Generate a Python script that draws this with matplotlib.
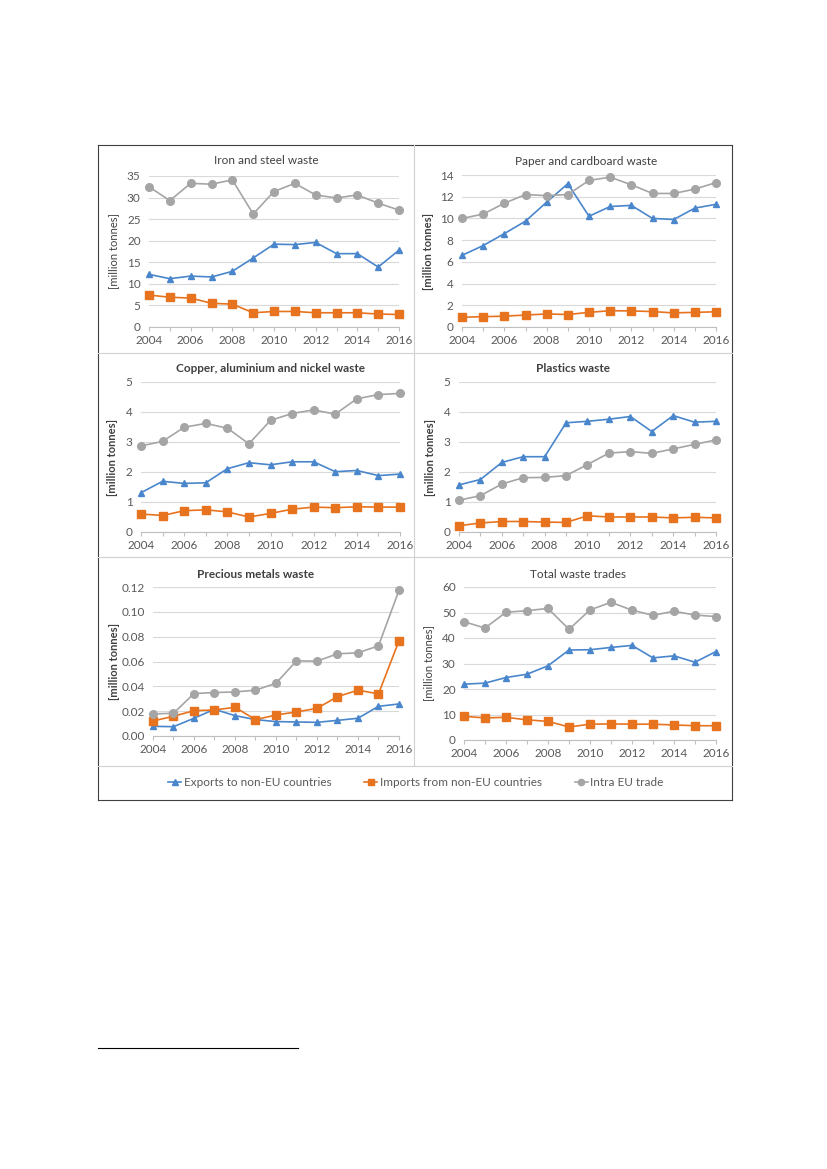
import matplotlib
matplotlib.use("Agg")
import matplotlib.pyplot as plt
from matplotlib.lines import Line2D
from matplotlib.ticker import MultipleLocator, FormatStrFormatter

plt.rcParams['font.family'] = ['Lato', 'DejaVu Sans']

years = list(range(2004, 2017))

iron_exports = [12.2, 11.2, 11.8, 11.6, 12.9, 16.0, 19.2, 19.1, 19.6, 17.0, 17.0, 13.9, 17.8]
iron_imports = [7.4, 6.9, 6.7, 5.5, 5.3, 3.3, 3.6, 3.6, 3.3, 3.3, 3.3, 3.0, 2.9]
iron_intra = [32.5, 29.3, 33.3, 33.1, 34.1, 26.2, 31.4, 33.3, 30.6, 29.9, 30.6, 28.7, 27.1]

paper_exports = [6.6, 7.5, 8.6, 9.75, 11.5, 13.2, 10.2, 11.1, 11.2, 10.0, 9.9, 10.95, 11.3]
paper_imports = [0.9, 0.95, 1.0, 1.1, 1.2, 1.15, 1.35, 1.5, 1.48, 1.42, 1.3, 1.35, 1.4]
paper_intra = [10.0, 10.4, 11.4, 12.2, 12.1, 12.2, 13.5, 13.8, 13.1, 12.3, 12.3, 12.7, 13.3]

copper_exports = [1.31, 1.69, 1.62, 1.64, 2.11, 2.31, 2.24, 2.34, 2.34, 2.01, 2.05, 1.88, 1.93]
copper_imports = [0.60, 0.55, 0.71, 0.74, 0.67, 0.50, 0.62, 0.76, 0.83, 0.81, 0.84, 0.83, 0.83]
copper_intra = [2.87, 3.02, 3.49, 3.62, 3.46, 2.94, 3.72, 3.95, 4.07, 3.93, 4.44, 4.58, 4.62]

plastics_exports = [1.57, 1.75, 2.32, 2.51, 2.51, 3.64, 3.69, 3.76, 3.85, 3.35, 3.88, 3.66, 3.69]
plastics_imports = [0.21, 0.30, 0.35, 0.35, 0.33, 0.32, 0.54, 0.50, 0.50, 0.50, 0.47, 0.49, 0.47]
plastics_intra = [1.06, 1.21, 1.60, 1.81, 1.82, 1.88, 2.25, 2.63, 2.68, 2.62, 2.77, 2.92, 3.07]

precious_exports = [0.0078, 0.0075, 0.0143, 0.0215, 0.0164, 0.0132, 0.0116, 0.0113, 0.0110, 0.0126, 0.0143, 0.0239, 0.0258]
precious_imports = [0.0121, 0.0159, 0.0204, 0.0210, 0.0231, 0.0132, 0.0169, 0.0194, 0.0223, 0.0317, 0.0369, 0.0339, 0.0767]
precious_intra = [0.0178, 0.0183, 0.0342, 0.0350, 0.0355, 0.0369, 0.0425, 0.0605, 0.0603, 0.0662, 0.0670, 0.0726, 0.1173]

total_exports = [21.9, 22.3, 24.5, 25.8, 29.1, 35.3, 35.4, 36.3, 37.1, 32.2, 33.0, 30.5, 34.7]
total_imports = [9.3, 8.65, 8.9, 7.9, 7.3, 5.1, 6.2, 6.3, 6.2, 6.2, 5.9, 5.6, 5.6]
total_intra = [46.4, 43.9, 50.1, 50.7, 51.6, 43.4, 51.0, 54.0, 50.9, 48.9, 50.5, 49.0, 48.4]

titles = ["Iron and steel waste", "Paper and cardboard waste",
          "Copper, aluminium and nickel waste", "Plastics waste",
          "Precious metals waste", "Total waste trades"]
series_names = ["Exports to non-EU countries", "Imports from non-EU countries", "Intra EU trade"]
y_label = "[million tonnes]"

panels_data = [
    (iron_exports, iron_imports, iron_intra),
    (paper_exports, paper_imports, paper_intra),
    (copper_exports, copper_imports, copper_intra),
    (plastics_exports, plastics_imports, plastics_intra),
    (precious_exports, precious_imports, precious_intra),
    (total_exports, total_imports, total_intra),
]
ymaxes = [35, 14, 5, 5, 0.12, 60]
ysteps = [5, 2, 1, 1, 0.02, 10]
yfmts = ["%d", "%d", "%d", "%d", "%.2f", "%d"]

# pixel layout: (left, right, bottom, top)
boxes = [(149, 399, 327, 176), (462, 716, 327, 175),
         (141, 400, 532, 382), (459, 716, 532, 382),
         (153, 399, 736, 587), (464, 716, 740, 587)]
title_pos = [(266, 161), (586, 162), (270, 368), (573, 369), (256, 574), (578, 574)]
title_bold = [False, False, True, True, True, False]
ylabel_x = [114, 429, 113, 430, 114, 429]
ylabel_bold = [False, True, True, True, True, False]

W, H = 827, 1169
fig = plt.figure(figsize=(W / 100, H / 100), dpi=100)

colors = ["#4A86CC", "#E8731E", "#A5A5A5"]
markers = ["^", "s", "o"]
msizes = [5, 5.5, 5.5]

def fx(x):
    return x / W

def fy(y):
    return 1 - y / H

for i, (data, box) in enumerate(zip(panels_data, boxes)):
    l, r, b, t = box
    ax = fig.add_axes([fx(l), fy(b), (r - l) / W, (b - t) / H])
    ax.set_xlim(2004, 2016)
    ax.set_ylim(0, ymaxes[i])
    for k in range(3):
        ax.plot(years, data[k], color=colors[k], marker=markers[k], ms=msizes[k],
                lw=1.2, clip_on=False, zorder=3)
    ax.yaxis.set_major_locator(MultipleLocator(ysteps[i]))
    ax.yaxis.set_major_formatter(FormatStrFormatter(yfmts[i]))
    ax.set_xticks(years)
    ax.set_xticklabels([str(y) if y % 2 == 0 else "" for y in years])
    ax.grid(axis='y', color="#D9D9D9", lw=0.8)
    ax.set_axisbelow(True)
    for s in ['top', 'right', 'left']:
        ax.spines[s].set_visible(False)
    ax.spines['bottom'].set_color("#BFBFBF")
    ax.tick_params(axis='y', length=0, labelsize=8.5, labelcolor="#595959", pad=6)
    ax.tick_params(axis='x', length=3, color="#BFBFBF", labelsize=8.5, labelcolor="#595959", pad=3)
    ax.patch.set_alpha(0)
    tx, ty = title_pos[i]
    fig.text(fx(tx), fy(ty), titles[i], ha='center', va='center', fontsize=8.5,
             color="#404040", fontweight='bold' if title_bold[i] else 'normal')
    fig.text(fx(ylabel_x[i]), fy((t + b) / 2), y_label, rotation=90, ha='center', va='center',
             fontsize=8, color="#404040", fontweight='bold' if ylabel_bold[i] else 'normal')

# frame lines
def hline(y, x0, x1, color, lw):
    fig.add_artist(Line2D([fx(x0), fx(x1)], [fy(y), fy(y)], color=color, lw=lw))

def vline(x, y0, y1, color, lw):
    fig.add_artist(Line2D([fx(x), fx(x)], [fy(y0), fy(y1)], color=color, lw=lw))

hline(145, 98, 732, "#404040", 0.8)
hline(800, 98, 732, "#404040", 0.8)
vline(98, 145, 800, "#404040", 0.8)
vline(732, 145, 800, "#404040", 0.8)
vline(414, 145, 766, "#D0D0D0", 0.8)
hline(353, 98, 732, "#D0D0D0", 0.8)
hline(557, 98, 732, "#D0D0D0", 0.8)
hline(766, 98, 732, "#D0D0D0", 0.8)

# footnote separator
hline(1048, 98, 298, "#000000", 0.8)

handles = [Line2D([], [], color=colors[k], marker=markers[k], ms=msizes[k] - 1, lw=1.2)
           for k in range(3)]
fig.legend(handles, series_names, loc='center', bbox_to_anchor=(fx(416), fy(783)),
           ncol=3, frameon=False, fontsize=8.5, labelcolor="#595959",
           handlelength=1.1, handletextpad=0.2, columnspacing=2.8)

fig.savefig("out.png", dpi=100)
